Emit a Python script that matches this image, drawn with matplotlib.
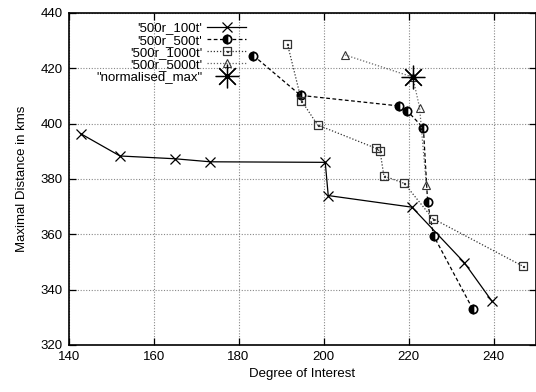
#!/usr/bin/env python3
import matplotlib
matplotlib.use("Agg")
import matplotlib.pyplot as plt
from matplotlib.path import Path

# ---------------------------------------------------------------------------
# Data
# ---------------------------------------------------------------------------

doi_100t  = [142.8, 152.1, 165.0, 173.3, 200.4, 201.1, 220.8, 233.1, 239.6]
dist_100t = [396.4, 388.3, 387.3, 386.2, 386.0, 374.0, 369.8, 349.8, 335.9]

doi_500t  = [183.5, 194.6, 217.7, 219.7, 223.5, 224.5, 225.9, 235.1]
dist_500t = [424.6, 410.2, 406.4, 404.6, 398.4, 371.5, 359.5, 333.0]

doi_1000t  = [191.5, 194.8, 198.6, 212.3, 213.3, 214.2, 219.0, 225.7, 247.0]
dist_1000t = [428.8, 408.3, 399.5, 391.1, 390.0, 381.1, 378.4, 365.7, 348.4]

doi_5000t  = [205.1, 221.0, 222.6, 224.2]
dist_5000t = [424.8, 416.8, 405.8, 377.8]

doi_max  = [221.0]
dist_max = [416.8]

x_ticks = [140, 160, 180, 200, 220, 240]
y_ticks = [320, 340, 360, 380, 400, 420, 440]

plt.rcParams["font.family"] = ["Liberation Sans", "DejaVu Sans"]

# square with a small dot in the middle (gnuplot point type 'boxed dot')
sq = Path([(-1, -1), (1, -1), (1, 1), (-1, 1), (-1, -1)],
          [Path.MOVETO, Path.LINETO, Path.LINETO, Path.LINETO, Path.CLOSEPOLY])
dot = Path([(-0.12, -0.12), (0.12, -0.12), (0.12, 0.12), (-0.12, 0.12), (-0.12, -0.12)],
           [Path.MOVETO, Path.LINETO, Path.LINETO, Path.LINETO, Path.CLOSEPOLY])
boxdot = Path.make_compound_path(sq, dot)


def main():
    fig = plt.figure(figsize=(5.36, 3.92), dpi=100)
    ax = fig.add_axes([0.128, 0.12, 0.872, 0.847])

    ax.plot(doi_100t, dist_100t, color="black", lw=0.9, ls="-",
            marker="x", ms=7, mew=0.9, label="'500r_100t'")
    ax.plot(doi_500t, dist_500t, color="black", lw=0.9, ls=(0, (3, 2)),
            marker="o", ms=6, mew=1.2, mfc="black", mec="black",
            fillstyle="left", markerfacecoloralt="white", label="'500r_500t'")
    ax.plot(doi_1000t, dist_1000t, color="#333333", lw=0.9, ls=(0, (1, 1.5)),
            marker=boxdot, ms=6, mew=0.9, mfc="none", mec="#333333",
            label="'500r_1000t'")
    ax.plot(doi_5000t, dist_5000t, color="#666666", lw=0.9, ls=(0, (1, 1.5)),
            marker="^", ms=6, mew=0.8, mfc="none", mec="#333333",
            label="'500r_5000t'")
    ax.plot(doi_max, dist_max, ls="none", color="black",
            marker=(8, 2, 0), ms=17, mew=0.9, label='"normalised_max"')
    ax.plot(doi_max, dist_max, ls="none", color="black", marker="o", ms=3)

    ax.set_xlim(140, 250)
    ax.set_ylim(320, 440)
    ax.set_xticks(x_ticks)
    ax.set_yticks(y_ticks)
    ax.tick_params(direction="in", length=5, width=0.9, top=True, right=True,
                   labelsize=9.5, pad=4)
    ax.grid(True, color="#888888", ls=(0, (1, 1.5)), lw=0.8)
    for sp in ax.spines.values():
        sp.set_linewidth(1.2)

    ax.set_xlabel("Degree of Interest", fontsize=9.5, labelpad=4)
    ax.set_ylabel("Maximal Distance in kms", fontsize=9.5, labelpad=9)

    ax.legend(loc="upper right", bbox_to_anchor=(0.40, 1.0), frameon=False,
              markerfirst=False, fontsize=9.5, handlelength=2.95,
              handletextpad=0.4, labelspacing=0.0, borderpad=0.2,
              numpoints=1)

    fig.savefig("out.png", dpi=100)


if __name__ == "__main__":
    main()
